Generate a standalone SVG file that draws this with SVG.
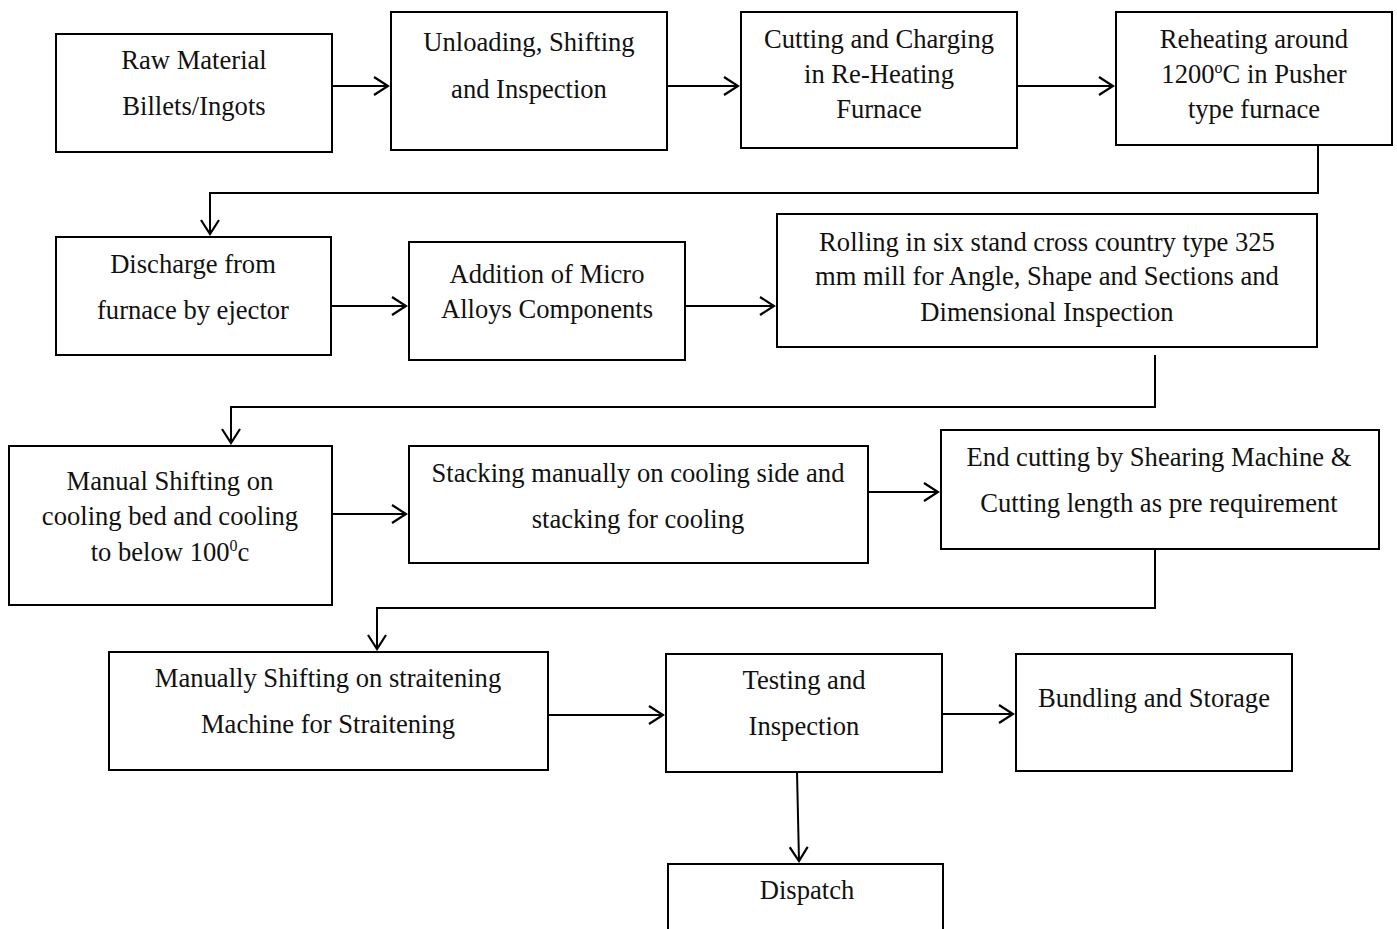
<svg xmlns="http://www.w3.org/2000/svg" width="1397" height="929" viewBox="0 0 1397 929">
  <style>
    .box { fill: #ffffff; stroke: #000000; stroke-width: 2; }
    .lbl { font-family: "Liberation Serif", "Times New Roman", serif; font-size: 26.6px; fill: #111111; text-anchor: middle; }
    .sup { font-size: 16px; }
    .conn { fill: none; stroke: #000000; stroke-width: 2; marker-end: url(#arrow); }
  </style>
  <defs>
    <marker id="arrow" markerWidth="18" markerHeight="20" refX="16" refY="10" orient="auto" markerUnits="userSpaceOnUse">
      <path d="M2,1 L16,10 L2,19" fill="none" stroke="#000000" stroke-width="2.2"/>
    </marker>
  </defs>
  <rect width="1397" height="929" fill="#ffffff"/>

  <g id="connectors">
    <path class="conn" d="M332,86 H388"/>
    <path class="conn" d="M667,86 H738"/>
    <path class="conn" d="M1017,86 H1113"/>
    <path class="conn" d="M1318,145 V193 H210 V234"/>
    <path class="conn" d="M331,306 H406"/>
    <path class="conn" d="M685,306 H774"/>
    <path class="conn" d="M1155,355 V407 H231 V443"/>
    <path class="conn" d="M332,514 H406"/>
    <path class="conn" d="M868,492 H938"/>
    <path class="conn" d="M1155,549 V608 H377 V649"/>
    <path class="conn" d="M548,715 H663"/>
    <path class="conn" d="M942,714 H1013"/>
    <path class="conn" d="M797,772 L799,861"/>
  </g>

  <g id="raw-material">
    <rect class="box" x="56" y="34" width="276" height="118"/>
    <text class="lbl" x="194" y="69">Raw Material</text>
    <text class="lbl" x="194" y="115">Billets/Ingots</text>
  </g>
  <g id="unloading">
    <rect class="box" x="391" y="12" width="276" height="138"/>
    <text class="lbl" x="529" y="51">Unloading, Shifting</text>
    <text class="lbl" x="529" y="98">and Inspection</text>
  </g>
  <g id="cutting-charging">
    <rect class="box" x="741" y="12" width="276" height="136"/>
    <text class="lbl" x="879" y="48">Cutting and Charging</text>
    <text class="lbl" x="879" y="83">in Re-Heating</text>
    <text class="lbl" x="879" y="118">Furnace</text>
  </g>
  <g id="reheating">
    <rect class="box" x="1116" y="12" width="276" height="133"/>
    <text class="lbl" x="1254" y="48">Reheating around</text>
    <text class="lbl" x="1254" y="83">1200<tspan class="sup" dy="-10">o</tspan><tspan dy="10">C in Pusher</tspan></text>
    <text class="lbl" x="1254" y="118">type furnace</text>
  </g>
  <g id="discharge">
    <rect class="box" x="56" y="237" width="275" height="118"/>
    <text class="lbl" x="193" y="273">Discharge from</text>
    <text class="lbl" x="193" y="319">furnace by ejector</text>
  </g>
  <g id="micro-alloys">
    <rect class="box" x="409" y="242" width="276" height="118"/>
    <text class="lbl" x="547" y="283">Addition of Micro</text>
    <text class="lbl" x="547" y="318">Alloys Components</text>
  </g>
  <g id="rolling">
    <rect class="box" x="777" y="214" width="540" height="133"/>
    <text class="lbl" x="1047" y="251">Rolling in six stand cross country type 325</text>
    <text class="lbl" x="1047" y="285">mm mill for Angle, Shape and Sections and</text>
    <text class="lbl" x="1047" y="321">Dimensional Inspection</text>
  </g>
  <g id="cooling-bed">
    <rect class="box" x="9" y="446" width="323" height="159"/>
    <text class="lbl" x="170" y="490">Manual Shifting on</text>
    <text class="lbl" x="170" y="525">cooling bed and cooling</text>
    <text class="lbl" x="170" y="561">to below 100<tspan class="sup" dy="-10">0</tspan><tspan dy="10">c</tspan></text>
  </g>
  <g id="stacking">
    <rect class="box" x="409" y="446" width="459" height="117"/>
    <text class="lbl" x="638" y="482">Stacking manually on cooling side and</text>
    <text class="lbl" x="638" y="528">stacking for cooling</text>
  </g>
  <g id="end-cutting">
    <rect class="box" x="941" y="430" width="438" height="119"/>
    <text class="lbl" x="1159" y="466">End cutting by Shearing Machine &amp;</text>
    <text class="lbl" x="1159" y="512">Cutting length as pre requirement</text>
  </g>
  <g id="straightening">
    <rect class="box" x="109" y="652" width="439" height="118"/>
    <text class="lbl" x="328" y="687">Manually Shifting on straitening</text>
    <text class="lbl" x="328" y="733">Machine for Straitening</text>
  </g>
  <g id="testing">
    <rect class="box" x="666" y="654" width="276" height="118"/>
    <text class="lbl" x="804" y="689">Testing and</text>
    <text class="lbl" x="804" y="735">Inspection</text>
  </g>
  <g id="bundling">
    <rect class="box" x="1016" y="654" width="276" height="117"/>
    <text class="lbl" x="1154" y="707">Bundling and Storage</text>
  </g>
  <g id="dispatch">
    <rect class="box" x="668" y="864" width="275" height="80"/>
    <text class="lbl" x="807" y="899">Dispatch</text>
  </g>
</svg>
